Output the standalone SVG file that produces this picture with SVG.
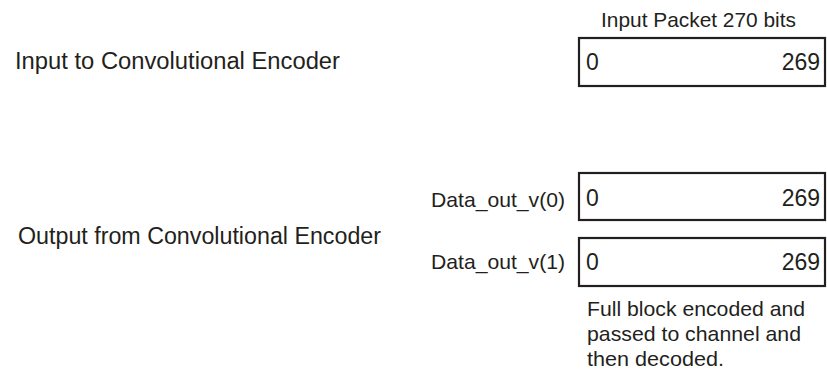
<svg xmlns="http://www.w3.org/2000/svg" width="827" height="374" viewBox="0 0 827 374">
<style>
text { font-family: "Liberation Sans", Arial, Helvetica, sans-serif; fill: #231f20; }
.big { font-size: 23px; }
.sm { font-size: 21px; }
.num { font-size: 23px; }
.box { fill: #ffffff; stroke: #231f20; stroke-width: 2.2; }
</style>
<rect width="827" height="374" fill="#ffffff"/>
<g id="label-input">
<text class="big" x="15" y="69" textLength="325" lengthAdjust="spacingAndGlyphs">Input to Convolutional Encoder</text>
</g>
<g id="label-output">
<text class="big" x="18" y="244" textLength="363" lengthAdjust="spacingAndGlyphs">Output from Convolutional Encoder</text>
</g>
<g id="input-packet">
<text class="sm" x="601" y="27" textLength="195" lengthAdjust="spacingAndGlyphs">Input Packet 270 bits</text>
<rect class="box" x="579" y="38" width="246" height="48"/>
<text class="num" x="586" y="70">0</text>
<text class="num" x="820" y="70" text-anchor="end">269</text>
</g>
<g id="data-out-v0">
<text class="sm" x="431" y="207" textLength="134" lengthAdjust="spacingAndGlyphs">Data_out_v(0)</text>
<rect class="box" x="579" y="173" width="246" height="47"/>
<text class="num" x="586" y="206">0</text>
<text class="num" x="820" y="206" text-anchor="end">269</text>
</g>
<g id="data-out-v1">
<text class="sm" x="431" y="269" textLength="134" lengthAdjust="spacingAndGlyphs">Data_out_v(1)</text>
<rect class="box" x="579" y="238" width="246" height="48"/>
<text class="num" x="586" y="270">0</text>
<text class="num" x="820" y="270" text-anchor="end">269</text>
</g>
<g id="note">
<text class="sm" x="587" y="316" textLength="218" lengthAdjust="spacingAndGlyphs">Full block encoded and</text>
<text class="sm" x="587" y="341" textLength="214" lengthAdjust="spacingAndGlyphs">passed to channel and</text>
<text class="sm" x="587" y="366" textLength="137" lengthAdjust="spacingAndGlyphs">then decoded.</text>
</g>
<g id="connectors"></g>
</svg>
